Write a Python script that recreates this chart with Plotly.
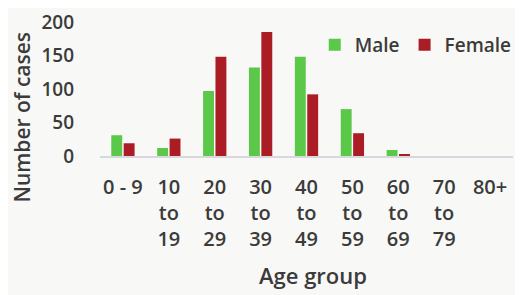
import plotly.graph_objects as go

categories = ["0 - 9", "10<br>to<br>19", "20<br>to<br>29", "30<br>to<br>39", "40<br>to<br>49",
              "50<br>to<br>59", "60<br>to<br>69", "70<br>to<br>79", "80+"]
male = [31, 12, 97, 132, 148, 70, 9, 0, 0]
female = [19, 26, 148, 185, 92, 34, 2, 0, 0]
y_ticks = [0, 50, 100, 150, 200]

TXT = "#3b3b3b"
FAM = "Open Sans, sans-serif"
FONT = dict(family=FAM, size=18, color=TXT, weight=600)

fig = go.Figure()
fig.add_bar(x=categories, y=male, name="Male", marker_color="#5cc84a", marker_line_width=0)
fig.add_bar(x=categories, y=female, name="Female", marker_color="#ab1d25", marker_line_width=0)

# page body has an 8px margin, so the figure is sized/positioned to compensate
fig.update_layout(
    width=515, height=287,
    margin=dict(l=92, r=10, t=14, b=139, autoexpand=False),
    paper_bgcolor="#f8f8f6", plot_bgcolor="#f8f8f6",
    barmode="group", bargap=0.46, bargroupgap=0.12,
    font=FONT,
    showlegend=True,
    legend=dict(orientation="h", x=0.52, xanchor="left", y=0.83, yanchor="middle",
                font=dict(size=19, color=TXT, weight=600, family=FAM),
                bgcolor="rgba(0,0,0,0)", itemwidth=30, tracegroupgap=0),
    annotations=[
        dict(text="Number of cases", xref="paper", yref="paper", x=-0.188, y=0.29,
             xanchor="center", yanchor="middle", textangle=-90, showarrow=False,
             font=dict(size=21, color=TXT, weight=600, family=FAM)),
        dict(text="Age group", xref="paper", yref="paper", x=0.516, y=-0.888,
             xanchor="center", yanchor="middle", showarrow=False,
             font=dict(size=22, color=TXT, weight=600, family=FAM)),
    ],
)
fig.update_xaxes(
    automargin=False,
    showgrid=False, showline=True, linecolor="#d6d8de", linewidth=1.5,
    ticks="", ticklabelstandoff=12, tickfont=dict(size=20),
)
fig.update_yaxes(
    automargin=False,
    range=[0, 200], tickvals=y_ticks, showgrid=False, zeroline=False, showline=False,
    ticks="", ticklabelstandoff=25, tickfont=dict(size=19),
)

fig.write_html("out.html")
